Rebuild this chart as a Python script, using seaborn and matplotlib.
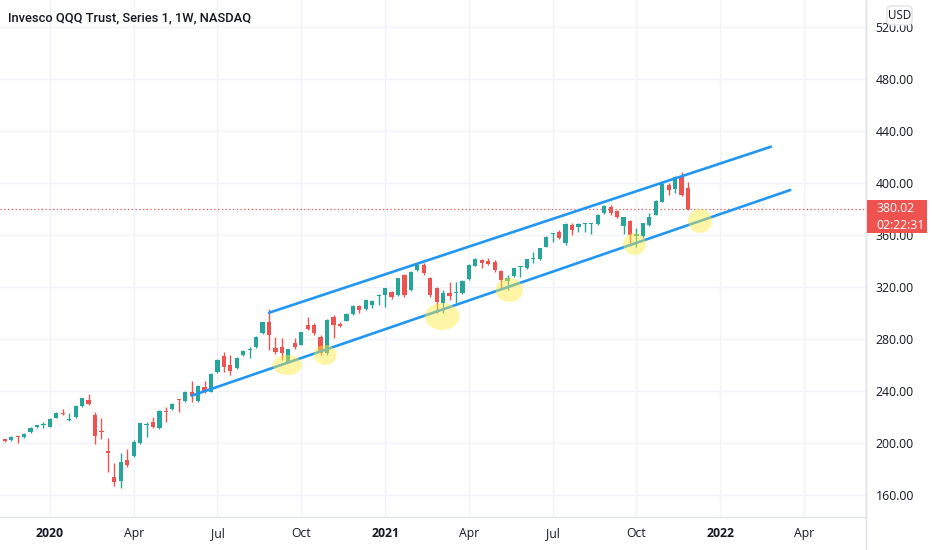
import numpy as np
import pandas as pd
import matplotlib
matplotlib.use("Agg")
import matplotlib.pyplot as plt
import matplotlib.dates as mdates
from matplotlib.patches import Ellipse, Rectangle, FancyBboxPatch
from matplotlib.lines import Line2D
import seaborn as sns

# ---------------- data (weekly candles, QQQ) ----------------
first_week = "2019-11-11"
opens = [200.5, 202.8, 202.3, 205.3, 204.5, 208.7, 212.1, 213.5, 212.6, 219.5,
         223.3, 217.8, 220.3, 228.5, 233.1, 221.5, 209.2, 193.5, 174.1, 171.0,
         186.9, 190.0, 199.7, 213.6, 215.9, 211.3, 224.2, 226.2, 233.3, 232.3,
         239.0, 232.0, 243.3, 239.5, 254.9, 266.9, 260.0, 257.4, 267.7, 271.2,
         273.6, 284.4, 293.3, 272.8, 274.1, 262.6, 276.7, 275.4, 290.8, 290.8,
         281.8, 269.5, 297.2, 291.3, 294.1, 299.2, 305.4, 302.8, 306.2, 312.8,
         313.8, 316.4, 313.8, 329.2, 317.7, 333.1, 336.9, 326.7, 319.0, 307.4,
         315.6, 315.3, 315.1, 325.9, 336.4, 340.8, 340.0, 339.5, 332.3, 324.6,
         328.5, 335.4, 334.3, 341.8, 341.3, 351.0, 360.5, 362.5, 353.6, 367.7,
         366.4, 368.3, 368.2, 368.5, 376.7, 381.8, 378.7, 366.9, 370.8, 359.5,
         359.2, 367.7, 375.4, 385.6, 398.5, 395.4, 404.9, 395.9]
highs = [202.5, 203.3, 205.5, 205.5, 207.5, 212.2, 214.0, 215.9, 219.0, 223.8,
         225.9, 223.3, 229.2, 234.8, 237.7, 223.9, 219.5, 203.6, 184.4, 192.1,
         195.1, 202.0, 215.5, 216.4, 220.3, 225.0, 227.4, 230.5, 233.6, 240.0,
         248.0, 244.4, 248.0, 253.6, 264.4, 269.8, 267.7, 266.0, 271.5, 274.1,
         282.3, 293.3, 303.1, 281.8, 280.5, 272.5, 280.5, 285.6, 297.2, 292.0,
         283.0, 295.0, 298.5, 293.3, 299.7, 306.0, 306.5, 310.5, 310.0, 314.6,
         319.5, 317.0, 327.2, 330.0, 332.3, 338.2, 338.2, 328.0, 320.3, 317.7,
         324.0, 324.0, 325.0, 337.4, 342.0, 341.5, 342.5, 340.8, 333.0, 329.2,
         334.8, 336.1, 341.8, 347.2, 350.2, 359.2, 361.8, 363.5, 369.0, 369.0,
         369.0, 369.5, 369.0, 375.9, 382.8, 383.1, 379.0, 374.1, 371.5, 365.1,
         369.5, 376.7, 387.0, 399.7, 399.7, 405.4, 408.7, 401.0]
lows = [200.0, 200.5, 201.8, 200.0, 203.5, 208.0, 211.8, 211.8, 212.0, 219.0,
        221.5, 217.3, 219.5, 228.0, 229.5, 199.0, 202.8, 177.4, 167.0, 165.1,
        181.3, 189.0, 199.0, 204.4, 211.3, 210.8, 215.9, 225.7, 224.0, 231.8,
        231.8, 231.5, 238.2, 239.0, 254.0, 254.9, 252.3, 257.0, 267.0, 265.1,
        273.0, 284.0, 271.5, 268.2, 263.9, 262.0, 272.0, 275.0, 287.0, 283.0,
        267.7, 267.7, 280.5, 289.0, 293.5, 298.7, 300.0, 302.0, 304.0, 306.2,
        304.9, 311.0, 313.0, 312.5, 317.0, 332.5, 329.2, 312.5, 299.7, 299.7,
        310.0, 307.4, 314.5, 325.4, 336.0, 334.3, 337.0, 331.8, 319.0, 317.7,
        328.0, 328.0, 333.8, 338.2, 340.8, 350.5, 354.8, 357.0, 352.5, 360.0,
        362.5, 362.5, 360.5, 368.0, 376.2, 375.4, 372.8, 360.8, 354.1, 350.5,
        358.0, 367.2, 375.0, 385.0, 390.8, 392.0, 390.0, 379.5]
closes = [202.0, 201.9, 205.0, 204.6, 207.0, 211.8, 213.6, 214.0, 218.5, 223.3,
          222.3, 218.3, 228.7, 234.3, 230.0, 205.4, 208.5, 192.6, 170.3, 185.6,
          183.1, 201.0, 215.1, 214.0, 212.6, 224.6, 223.5, 230.0, 232.8, 239.5,
          236.1, 243.9, 240.0, 253.1, 263.9, 258.7, 255.4, 265.6, 271.0, 271.8,
          281.8, 292.8, 283.1, 270.3, 269.0, 272.0, 273.6, 285.1, 287.7, 284.4,
          269.0, 294.6, 290.8, 290.3, 299.2, 305.4, 302.3, 310.0, 309.5, 313.4,
          319.0, 312.1, 326.7, 313.8, 331.8, 336.9, 331.0, 313.8, 308.7, 315.1,
          313.1, 315.8, 324.6, 336.9, 341.5, 338.2, 337.7, 333.1, 325.4, 327.2,
          334.3, 335.8, 341.3, 342.3, 349.7, 358.7, 360.8, 357.4, 368.5, 363.8,
          368.5, 368.8, 368.7, 375.4, 382.3, 376.7, 373.6, 373.6, 360.0, 360.5,
          369.0, 374.1, 386.4, 399.2, 394.6, 404.9, 390.8, 380.02]

# channel trend lines (start / end)
upper_dates = ["2020-08-31", "2022-02-27"]
upper_prices = [300.2, 427.9]
lower_dates = ["2020-06-08", "2022-03-20"]
lower_prices = [236.4, 394.6]

# highlighted touch points (centre date / price)
touch_dates = ["2020-09-20", "2020-10-31", "2021-03-07", "2021-05-19", "2021-10-02", "2021-12-12"]
touch_prices = [260.0, 267.7, 297.3, 317.7, 353.1, 370.8]

tick_dates = ["2020-01-06", "2020-04-06", "2020-07-06", "2020-10-05", "2021-01-04",
              "2021-04-05", "2021-07-05", "2021-10-04", "2022-01-03", "2022-04-04"]
tick_labels = ["2020", "Apr", "Jul", "Oct", "2021", "Apr", "Jul", "Oct", "2022", "Apr"]
price_ticks = [160, 200, 240, 280, 320, 360, 400, 440, 480, 520]

title = "Invesco QQQ Trust, Series 1, 1W, NASDAQ"
last_price = 380.02
countdown = "02:22:31"
currency = "USD"

# ---------------- style ----------------
sns.set_style("white")
FONT = ["Open Sans", "DejaVu Sans"]
plt.rcParams["font.family"] = FONT
TITLE_FONT = ["Roboto", "Open Sans", "DejaVu Sans"]
TXT = "#131722"
UP, DOWN = "#26a69a", "#ef5350"
GRID = "#f0f3fa"
BORDER = "#e0e3eb"

W, H = 932, 550
fig = plt.figure(figsize=(W / 100, H / 100), dpi=100)
fig.patch.set_facecolor("white")
ax_right, ax_bottom = 866, 517
ax = fig.add_axes([0, (H - ax_bottom) / H, ax_right / W, ax_bottom / H])
ax.set_facecolor("white")

dates = pd.date_range(first_week, periods=len(opens), freq="W-MON")
x = mdates.date2num(dates)
o = np.array(opens); c = np.array(closes); hi = np.array(highs); lo = np.array(lows)
up = c >= o
cols = np.where(up, UP, DOWN)

# wicks and bodies
ax.vlines(x, lo, hi, colors=cols, linewidth=1.0, zorder=3)
body = np.maximum(np.abs(c - o), 0.8)
ax.bar(x, body, bottom=np.minimum(o, c), width=4.6, color=cols, linewidth=0, zorder=4)

# trend channel
tl = pd.DataFrame({
    "date": mdates.date2num(pd.to_datetime(upper_dates + lower_dates)),
    "price": upper_prices + lower_prices,
    "line": ["upper"] * 2 + ["lower"] * 2,
})
sns.lineplot(data=tl, x="date", y="price", units="line", estimator=None,
             color="#2196f3", linewidth=1.9, ax=ax, zorder=5, legend=False)

# last price dotted line
ax.axhline(last_price, color=DOWN, linewidth=0.9, linestyle=(0, (1, 2)), zorder=2)

# highlights
touch_w = [32, 25, 38, 30, 25, 26]        # days
touch_h = [15.4, 15.4, 20.8, 18.5, 16.9, 18.5]  # price units
for d, p, w, h in zip(touch_dates, touch_prices, touch_w, touch_h):
    ax.add_patch(Ellipse((mdates.date2num(pd.Timestamp(d)), p), w, h,
                         facecolor="#ffeb3b", alpha=0.45, edgecolor="none", zorder=6))

# axes limits (x scale: one week ~ 6.446 px)
anchor = mdates.date2num(pd.Timestamp("2020-02-24"))
ppd = 6.446 / 7
ax.set_xlim(anchor - 95 / ppd, anchor + (ax_right - 95) / ppd)
ax.set_ylim(520 - (ax_bottom - 27) / 1.3, 520 + 27 / 1.3)

ax.set_xticks(mdates.date2num(pd.to_datetime(tick_dates)))
ax.set_xticklabels(tick_labels)
for lab in ax.get_xticklabels():
    if lab.get_text().isdigit():
        lab.set_fontweight("bold")
ax.set_yticks(price_ticks)
ax.set_yticklabels([f"{v:.2f}" for v in price_ticks])
ax.yaxis.tick_right()
ax.tick_params(axis="both", length=0, labelsize=8.8, colors=TXT)
ax.tick_params(axis="y", pad=7)
ax.tick_params(axis="x", pad=7)
ax.grid(True, color=GRID, linewidth=1.0, zorder=0)
ax.set_axisbelow(True)
for s in ["top", "left"]:
    ax.spines[s].set_visible(False)
ax.spines["right"].set_color(BORDER)
ax.spines["bottom"].set_color(BORDER)
ax.spines["right"].set_linewidth(1.0)
ax.spines["bottom"].set_linewidth(1.0)
ax.set_xlabel(""); ax.set_ylabel("")

# separator continuing below the plot
fig.add_artist(Line2D([ax_right / W, ax_right / W], [0, 1], transform=fig.transFigure,
                      color=BORDER, linewidth=1.0, zorder=1))

# title
fig.text(8 / W, 1 - 18 / H, title, ha="left", va="center", fontsize=9.3,
         fontweight="medium", color=TXT, family=TITLE_FONT)

# last price tag
fig.add_artist(Rectangle((867 / W, 1 - 233 / H), 60 / W, 33 / H, transform=fig.transFigure,
                         facecolor=DOWN, edgecolor="none", zorder=10))
fig.text(876 / W, 1 - 209 / H, f"{last_price:.2f}", ha="left", va="center",
         fontsize=8.8, color="white", zorder=11)
fig.text(876 / W, 1 - 225 / H, countdown, ha="left", va="center",
         fontsize=8.8, color="white", zorder=11)

# currency badge
fig.add_artist(FancyBboxPatch((887 / W, 1 - 25 / H), 25 / W, 19 / H,
                              boxstyle="round,pad=0,rounding_size=0.006",
                              transform=fig.transFigure, facecolor="white",
                              edgecolor=BORDER, linewidth=1.0, zorder=10))
fig.text(899.5 / W, 1 - 15.5 / H, currency, ha="center", va="center",
         fontsize=8.4, color=TXT, zorder=11)

fig.savefig("out.png", dpi=100, facecolor="white")
